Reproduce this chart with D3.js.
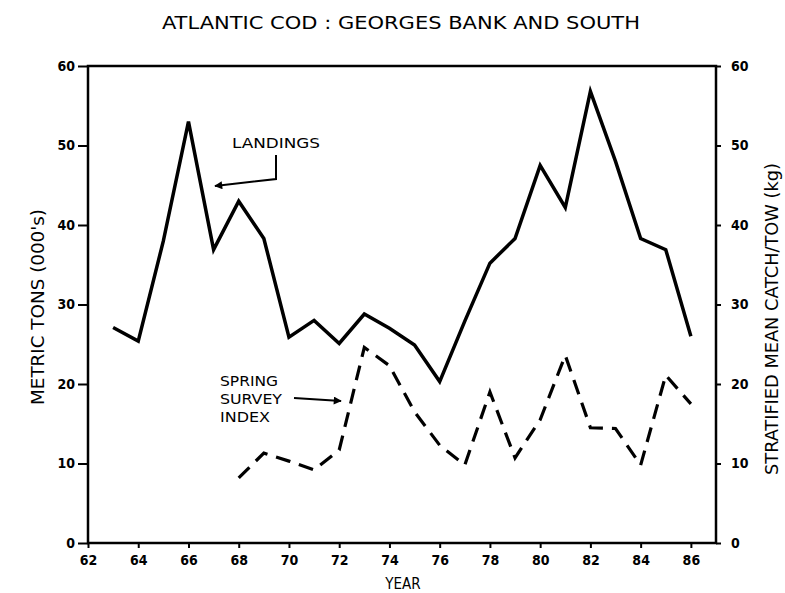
<!DOCTYPE html>
<html>
<head>
<meta charset="utf-8">
<script src="https://cdn.jsdelivr.net/npm/d3@7"></script>
<style>
  body { margin: 0; background: #fff; }
  svg text { font-family: "DejaVu Sans Condensed", "Liberation Sans Narrow", "DejaVu Sans", sans-serif; fill: #000; }
</style>
</head>
<body>
<svg id="chart" width="785" height="593"></svg>
<script>
// ---- data ----
const landingYears = [63,64,65,66,67,68,69,70,71,72,73,74,75,76,77,78,79,80,81,82,83,84,85,86];
const landings =     [27.1,25.4,38,53,36.9,43,38.3,25.9,28,25.1,28.8,27,24.9,20.3,27.9,35.2,38.3,47.5,42.2,56.8,48,38.3,36.9,26];
const surveyYears = [68,69,70,71,72,73,74,75,76,77,78,79,80,81,82,83,84,85,86];
const surveyIndex = [8.2,11.3,10.3,9.2,11.7,24.6,22.3,16.5,12.3,9.8,19,10.7,15.5,23.6,14.5,14.4,9.8,21.1,17.5];
const yearTicks = [62,64,66,68,70,72,74,76,78,80,82,84,86];
const leftTicks = [0,10,20,30,40,50,60];
const rightTicks = [0,10,20,30,40,50,60];

const svg = d3.select("#chart");
const x = d3.scaleLinear().domain([62, 87]).range([88, 716]);
const yL = d3.scaleLinear().domain([0, 60]).range([543, 66]);
const yR = d3.scaleLinear().domain([0, 60]).range([543, 66]);

// title
svg.append("text").attr("x", 401).attr("y", 29).attr("text-anchor", "middle")
  .attr("font-size", 17).attr("textLength", 478).attr("lengthAdjust", "spacingAndGlyphs")
  .text("ATLANTIC COD :  GEORGES BANK AND SOUTH");

// frame
svg.append("rect").attr("x", x(62)).attr("y", yL(60))
  .attr("width", x(87) - x(62)).attr("height", yL(0) - yL(60))
  .attr("fill", "none").attr("stroke", "#000").attr("stroke-width", 2.5);

// axes
const gL = svg.append("g").attr("transform", `translate(${x(62)},0)`)
  .call(d3.axisLeft(yL).tickValues(leftTicks).tickSize(10).tickPadding(3));
const gR = svg.append("g").attr("transform", `translate(${x(87)},0)`)
  .call(d3.axisRight(yR).tickValues(rightTicks).tickSize(5).tickPadding(10));
const gB = svg.append("g").attr("transform", `translate(0,${yL(0)})`)
  .call(d3.axisBottom(x).tickValues(yearTicks).tickFormat(d => d).tickSize(5).tickPadding(7));
[gL, gR, gB].forEach(g => {
  g.select(".domain").remove();
  g.selectAll(".tick line").attr("stroke", "#000").attr("stroke-width", 2);
  g.selectAll(".tick text").attr("font-size", 14).attr("font-weight", "bold")
    .style("font-family", "\"DejaVu Sans Condensed\", sans-serif");
});

// axis titles
svg.append("text").attr("transform", "translate(44,307) rotate(-90)")
  .attr("text-anchor", "middle").attr("font-size", 17)
  .attr("textLength", 196).attr("lengthAdjust", "spacingAndGlyphs")
  .text("METRIC TONS (000's)");
svg.append("text").attr("transform", "translate(778,319) rotate(-90)")
  .attr("text-anchor", "middle").attr("font-size", 17)
  .attr("textLength", 312).attr("lengthAdjust", "spacingAndGlyphs")
  .text("STRATIFIED MEAN CATCH/TOW (kg)");
svg.append("text").attr("x", 403).attr("y", 589).attr("text-anchor", "middle")
  .attr("font-size", 15).text("YEAR");

// lines
const lineL = d3.line().x((d, i) => x(landingYears[i])).y(d => yL(d));
svg.append("path").datum(landings).attr("d", lineL)
  .attr("fill", "none").attr("stroke", "#000").attr("stroke-width", 3.5)
  .attr("stroke-linejoin", "miter");
const lineR = d3.line().x((d, i) => x(surveyYears[i])).y(d => yR(d));
svg.append("path").datum(surveyIndex).attr("d", lineR)
  .attr("fill", "none").attr("stroke", "#000").attr("stroke-width", 3.2)
  .attr("stroke-dasharray", "15,9");

// arrow marker
svg.append("defs").append("marker").attr("id", "arr")
  .attr("viewBox", "0 0 10 10").attr("refX", 9).attr("refY", 5)
  .attr("markerWidth", 10).attr("markerHeight", 8).attr("markerUnits", "userSpaceOnUse")
  .attr("orient", "auto")
  .append("path").attr("d", "M0,0 L10,5 L0,10 Z").attr("fill", "#000");

// annotations
svg.append("text").attr("x", 232).attr("y", 148).attr("font-size", 14)
  .attr("textLength", 88).attr("lengthAdjust", "spacingAndGlyphs").text("LANDINGS");
svg.append("path").attr("d", "M276,155 L276,179 L215,186")
  .attr("fill", "none").attr("stroke", "#000").attr("stroke-width", 2)
  .attr("marker-end", "url(#arr)");

const ssi = ["SPRING", "SURVEY", "INDEX"];
const ssiW = [58, 62, 50];
ssi.forEach((t, i) => {
  svg.append("text").attr("x", 220).attr("y", 386 + i * 18).attr("font-size", 14.5)
    .attr("textLength", ssiW[i]).attr("lengthAdjust", "spacingAndGlyphs").text(t);
});
svg.append("path").attr("d", "M294,398 L341,401")
  .attr("fill", "none").attr("stroke", "#000").attr("stroke-width", 2)
  .attr("marker-end", "url(#arr)");
</script>
</body>
</html>
